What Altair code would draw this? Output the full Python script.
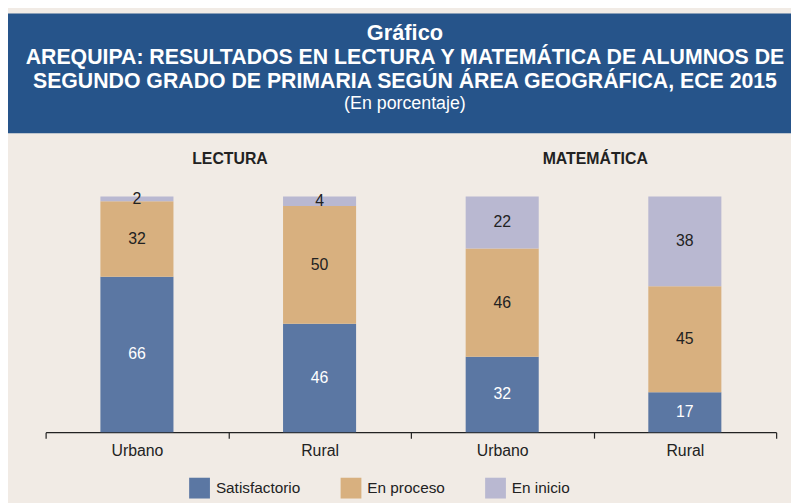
import altair as alt
import pandas as pd

materias = ["LECTURA", "LECTURA", "MATEMÁTICA", "MATEMÁTICA"]
areas = ["Urbano", "Rural", "Urbano", "Rural"]
niveles = ["Satisfactorio", "En proceso", "En inicio"]
satisfactorio = [66, 46, 32, 17]
en_proceso = [32, 50, 46, 45]
en_inicio = [2, 4, 22, 38]
colores = ["#5b77a3", "#d8b07f", "#b9b8d1"]
titulo = ["Gráfico",
          "AREQUIPA: RESULTADOS EN LECTURA Y MATEMÁTICA DE ALUMNOS DE",
          "SEGUNDO GRADO DE PRIMARIA SEGÚN ÁREA GEOGRÁFICA, ECE 2015"]
subtitulo = "(En porcentaje)"

FONT = "Liberation Sans"

rows = []
keys = [f"{m}|{a}" for m, a in zip(materias, areas)]
for i, k in enumerate(keys):
    for j, (niv, vals) in enumerate(zip(niveles, [satisfactorio, en_proceso, en_inicio])):
        rows.append({"key": k, "materia": materias[i], "nivel": niv, "orden": j, "valor": vals[i]})
df = pd.DataFrame(rows)

W, H = 738, 238
PL, PT = 38, 188

xenc = alt.X("key:N", sort=keys,
             scale=alt.Scale(paddingInner=0, paddingOuter=0),
             axis=alt.Axis(title=None, labelExpr="split(datum.value, '|')[1]",
                           labelAngle=0, labelAlign="center", tickBand="extent", tickSize=6,
                           labelPadding=5, labelFontSize=16, labelFont=FONT,
                           labelColor="#222", domainColor="#222", tickColor="#222",
                           domainWidth=1.2, tickWidth=1.2))

base = alt.Chart(df)

bars = base.mark_bar(width=alt.RelativeBandSize(0.4)).encode(
    x=xenc,
    y=alt.Y("valor:Q", stack="zero", scale=alt.Scale(domain=[0, 100]), axis=None),
    color=alt.Color("nivel:N", sort=niveles,
                    scale=alt.Scale(domain=niveles, range=colores),
                    legend=alt.Legend(title=None, orient="none", direction="horizontal",
                                      legendX=145, legendY=284, symbolType="square",
                                      symbolSize=441, symbolStrokeWidth=0,
                                      labelFontSize=15.5, labelFont=FONT, labelColor="#222",
                                      labelOffset=6, columnPadding=40, padding=0)),
    order=alt.Order("orden:Q"),
)

labels = base.transform_stack(
    stack="valor", groupby=["key"], sort=[alt.SortField("orden")], as_=["y0", "y1"]
).transform_calculate(
    mid="(datum.y0 + datum.y1) / 2"
).mark_text(fontSize=16, font=FONT, baseline="middle").encode(
    x=xenc,
    y=alt.Y("mid:Q"),
    text=alt.Text("valor:Q"),
    color=alt.condition(alt.datum.nivel == "Satisfactorio", alt.value("white"), alt.value("#222")),
)

panel_df = pd.DataFrame({"key": [keys[0], keys[2]], "materia": [materias[0], materias[2]]})
panels = alt.Chart(panel_df).mark_text(fontSize=16, font=FONT, fontWeight="bold",
                                       color="#222", dx=94, baseline="middle").encode(
    x=xenc,
    y=alt.value(158 - 8 - PT),
    text="materia:N",
)

box = alt.Chart(pd.DataFrame({"a": [0]})).mark_rect(color="#26548a").encode(
    x=alt.value(-PL), x2=alt.value(791 - PL),
    y=alt.value(3 - PT), y2=alt.value(124 - PT),
)

tdf = pd.DataFrame({"t": titulo, "y": [23 - PT, 48 - PT, 72 - PT],
                    "fs": [22, 21.5, 21.5]})
tlines = alt.Chart(tdf).mark_text(font=FONT, fontWeight="bold",
                                  color="white", baseline="middle").encode(
    x=alt.value(409 - 8 - PL), y=alt.Y("y:Q", scale=None), text="t:N",
    size=alt.Size("fs:Q", scale=None, legend=None),
)
sub = alt.Chart(pd.DataFrame({"t": [subtitulo]})).mark_text(
    fontSize=18, font=FONT, color="white", baseline="middle").encode(
    x=alt.value(409 - 8 - PL), y=alt.value(95 - PT), text="t:N",
)

chart = alt.layer(box, tlines, sub, panels, bars, labels).properties(
    width=W, height=H,
    autosize=alt.AutoSizeParams(type="none"),
    padding={"left": PL, "top": PT, "right": 791 - PL - W, "bottom": 495 - PT - H},
    background="#f1ebe5",
).configure_view(stroke=None)

chart.save("out.html", embed_options={"renderer": "svg", "actions": False})
